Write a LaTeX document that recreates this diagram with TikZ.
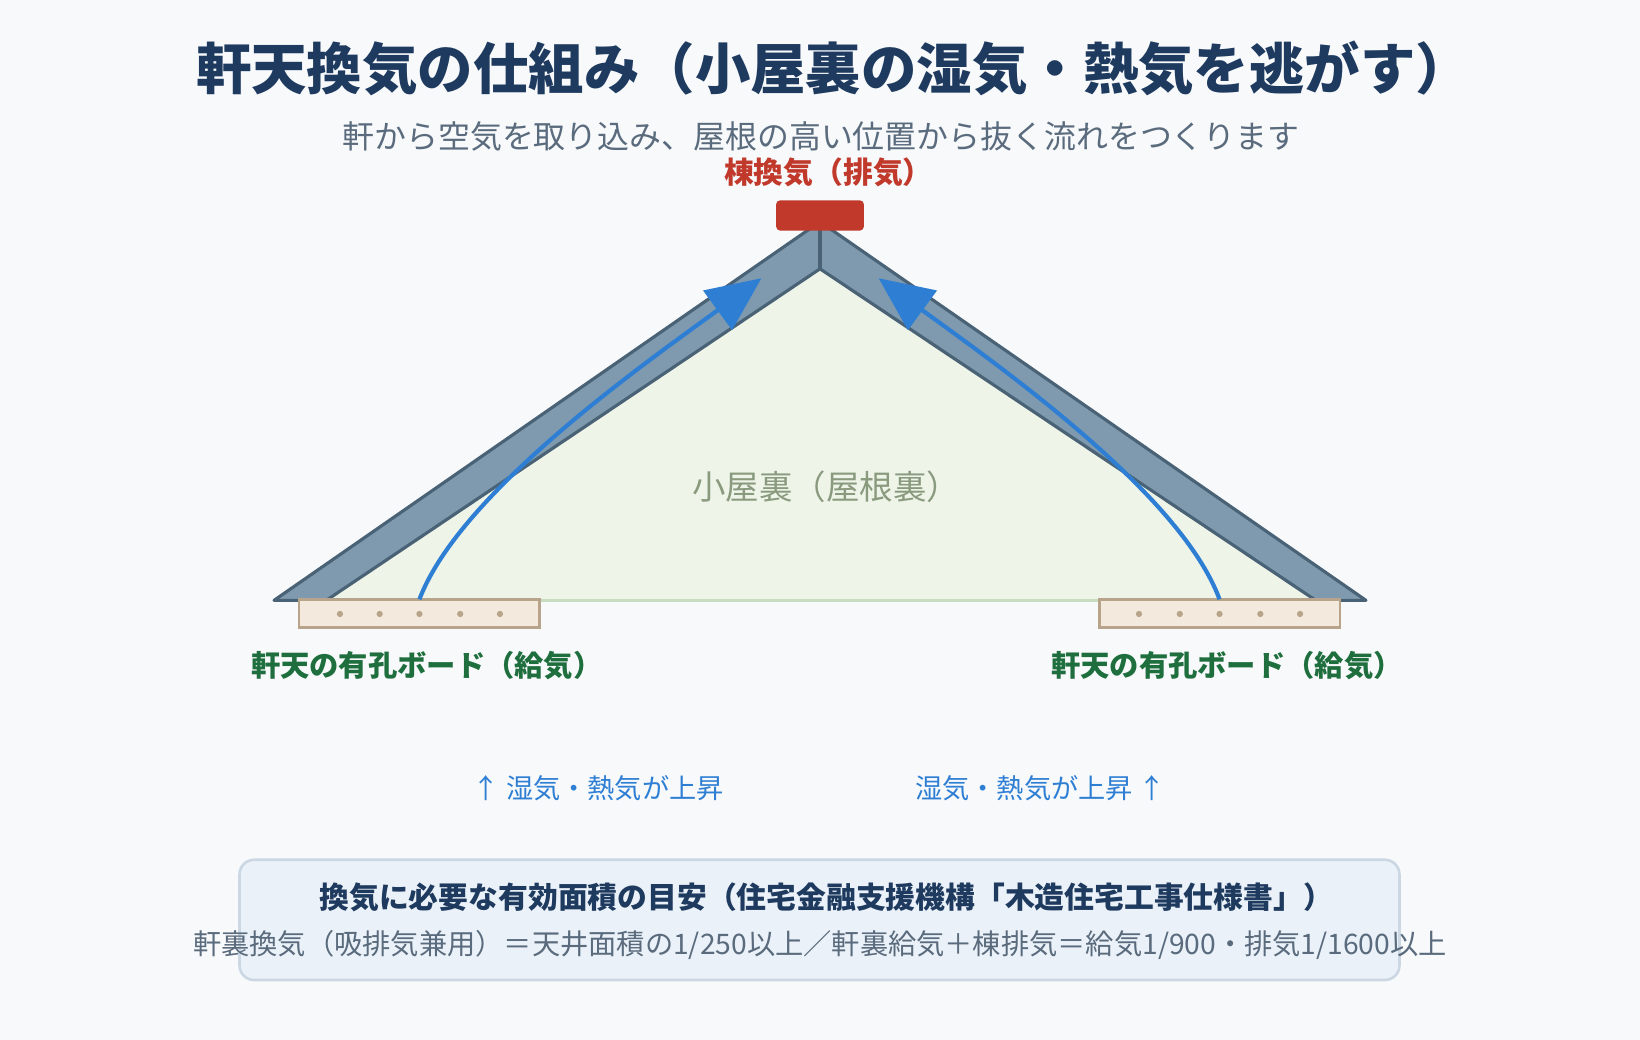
\documentclass[tikz,border=0pt]{standalone}
\usepackage{fontspec}
\setmainfont{Noto Sans CJK JP}
\usetikzlibrary{arrows.meta}
\definecolor{bg}{HTML}{F7F9FB}
\definecolor{navy}{HTML}{1E3A5F}
\definecolor{subg}{HTML}{5A6B7D}
\definecolor{redc}{HTML}{C0392B}
\definecolor{roof}{HTML}{7F9AAE}
\definecolor{roofs}{HTML}{4A6275}
\definecolor{attic}{HTML}{EEF4E8}
\definecolor{atticl}{HTML}{C8DCC0}
\definecolor{board}{HTML}{F3E9DC}
\definecolor{boards}{HTML}{B8A48A}
\definecolor{greenc}{HTML}{1E6E3E}
\definecolor{bluec}{HTML}{2E7FD4}
\definecolor{atticT}{HTML}{8A9A7E}
\definecolor{boxf}{HTML}{EAF1F8}
\definecolor{boxs}{HTML}{CBD8E4}
\tikzset{
 lbl/.style={font=\fontsize{28}{32}\selectfont\bfseries, text=greenc},
 bluet/.style={font=\fontsize{26}{30}\selectfont, text=bluec},
 flow/.style={draw=bluec, line width=4pt, -{Triangle[length=52pt,width=46pt]}},
 brd/.style={fill=board, draw=boards, line width=2.5pt},
 dotc/.style={circle, fill=boards, inner sep=0pt, minimum size=6pt},
}
\begin{document}
\begin{tikzpicture}[x=1pt,y=-1pt]
\useasboundingbox (0,0) rectangle (1568,994);
\fill[bg] (0,0) rectangle (1568,994);
\node[font=\fontsize{53}{60}\selectfont\bfseries, text=navy] (title) at (797,65) {軒天換気の仕組み（小屋裏の湿気・熱気を逃がす）};
\node[font=\fontsize{30.5}{36}\selectfont, text=subg] (sub) at (785,130) {軒から空気を取り込み、屋根の高い位置から抜く流れをつくります};
\node[font=\fontsize{28.5}{32}\selectfont\bfseries, text=redc] (ridgelbl) at (792,165) {棟換気（排気）};
% attic
\fill[attic] (312,574) -- (784,257) -- (1258,574) -- cycle;
\draw[atticl, line width=2.5pt] (312,574) -- (1258,574);
% roof
\filldraw[fill=roof, draw=roofs, line width=3pt, line join=round] (262,574) -- (784,212) -- (1306,574) -- (1258,574) -- (784,257) -- (312,574) -- cycle;
\draw[roofs, line width=3pt] (784,212) -- (784,257);
\node[fill=redc, rounded corners=4pt, minimum width=84pt, minimum height=29pt, inner sep=0pt] (ridge) at (784,206) {};
\node[font=\fontsize{32}{38}\selectfont, text=atticT] (atticlbl) at (790,465) {小屋裏（屋根裏）};
% boards
\draw[brd] (286,573) rectangle (516,600);
\draw[brd] (1051,573) rectangle (1281,600);
\foreach \x in {325,363,401,440,478} \node[dotc] at (\x,587) {};
\foreach \x in {1089,1128,1166,1205,1243} \node[dotc] at (\x,587) {};
\coordinate (ls) at (401,573);
\coordinate (le) at (728,266);
\coordinate (rs) at (1166,573);
\coordinate (re) at (840,266);
\draw[flow] (ls) .. controls (440,470) and (620,345) .. (le);
\draw[flow] (rs) .. controls (1128,470) and (948,345) .. (re);
\node[lbl] (l1) at (408,636) {軒天の有孔ボード（給気）};
\node[lbl] (l2) at (1173,636) {軒天の有孔ボード（給気）};
\node[bluet] (b1) at (572,754) {↑ 湿気・熱気が上昇};
\node[bluet] (b2) at (995,754) {湿気・熱気が上昇 ↑};
\draw[fill=boxf, draw=boxs, line width=2.5pt, rounded corners=14pt] (229,822) rectangle (1338,937);
\node[font=\fontsize{28.5}{30}\selectfont\bfseries, text=navy] (n1) at (790,858) {換気に必要な有効面積の目安（住宅金融支援機構「木造住宅工事仕様書」）};
\node[font=\fontsize{27}{30}\selectfont, text=subg] (n2) at (784,903) {軒裏換気（吸排気兼用）＝天井面積の1/250以上／軒裏給気＋棟排気＝給気1/900・排気1/1600以上};
\end{tikzpicture}
\end{document}
